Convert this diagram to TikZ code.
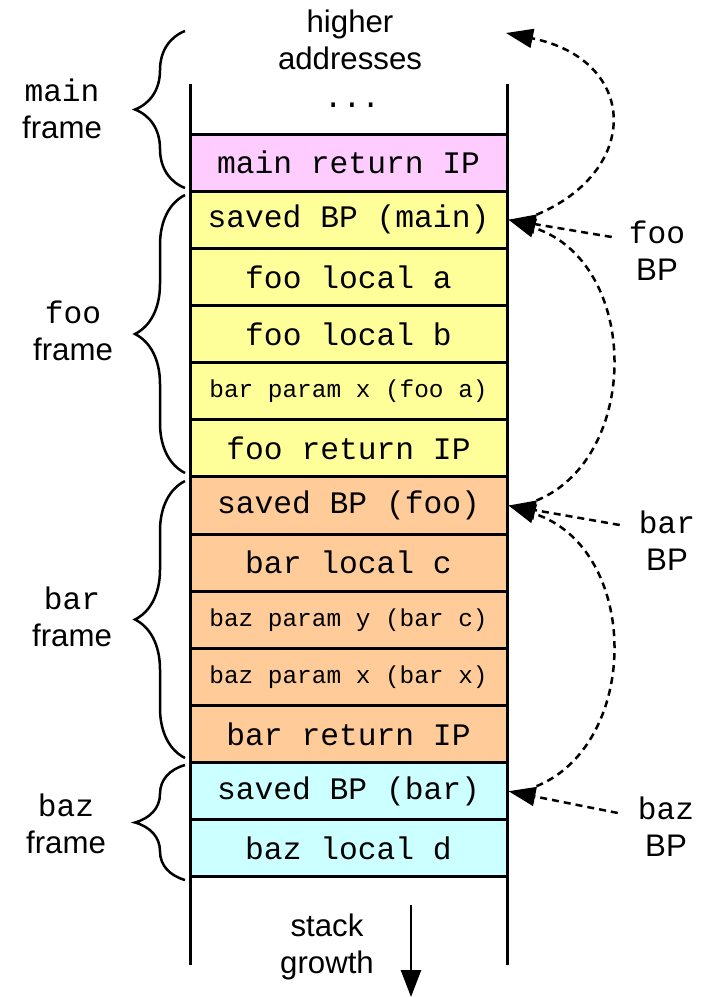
\documentclass[tikz,border=0pt]{standalone}
\usepackage{fontspec}
\setmainfont{Liberation Sans}
\setmonofont{Liberation Mono}
\usetikzlibrary{arrows.meta,decorations.pathreplacing}
\definecolor{mainpink}{HTML}{FFCCFF}
\definecolor{fooyellow}{HTML}{FFFF99}
\definecolor{barorange}{HTML}{FFCC99}
\definecolor{bazcyan}{HTML}{CCFFFF}
\tikzset{
  slotbox/.style={draw, line width=3pt, minimum width=317pt,
    minimum height=57.15pt, inner sep=0pt,
    font=\ttfamily\fontsize{31.3}{36}\selectfont},
  slotsmall/.style={slotbox, font=\ttfamily\fontsize{24.4}{28}\selectfont},
  sidetext/.style={align=center, inner sep=0pt,
    font=\fontsize{31.2}{37}\selectfont},
  stackwall/.style={line width=3pt},
  framebrace/.style={line width=2.5pt,
    decorate, decoration={brace, amplitude=50pt}},
  bplink/.style={-{Triangle[length=27pt,width=19pt]}, line width=2.5pt,
    dash pattern=on 7pt off 5pt},
  growarr/.style={-{Triangle[length=27pt,width=20pt]}, line width=2.5pt},
}

\begin{document}
\begin{tikzpicture}[x=1pt, y=-1pt]
  \useasboundingbox (0,0) rectangle (712,997);
  % Stack walls
  \draw[stackwall] (190,84) -- (190,965);
  \draw[stackwall] (507,84) -- (507,965);
  \node[sidetext] at (350,40) (hiaddrtxt) {higher\\addresses};
  \node[font=\ttfamily\fontsize{31.3}{36}\selectfont] at (352,105) (dots) {...};
  \coordinate (hiaddr) at (506,33);
  % main frame
  \node[slotbox, fill=mainpink]    at (348.5,162.6) (retmain) {main return IP};
  % foo frame
  \node[slotbox, fill=fooyellow]   at (348.5,219.7) (sbmain)  {saved BP (main)};
  \node[slotbox, fill=fooyellow]   at (348.5,276.9) (fooa)    {foo local a};
  \node[slotbox, fill=fooyellow]   at (348.5,334.0) (foob)    {foo local b};
  \node[slotsmall, fill=fooyellow] at (348.5,391.2) (barx)    {bar param x (foo a)};
  \node[slotbox, fill=fooyellow]   at (348.5,448.3) (retfoo)  {foo return IP};
  % bar frame
  \node[slotbox, fill=barorange]   at (348.5,505.5) (sbfoo)   {saved BP (foo)};
  \node[slotbox, fill=barorange]   at (348.5,562.6) (barc)    {bar local c};
  \node[slotsmall, fill=barorange] at (348.5,619.8) (bazy)    {baz param y (bar c)};
  \node[slotsmall, fill=barorange] at (348.5,676.9) (bazx)    {baz param x (bar x)};
  \node[slotbox, fill=barorange]   at (348.5,734.1) (retbar)  {bar return IP};
  % baz frame
  \node[slotbox, fill=bazcyan]     at (348.5,791.2) (sbbar)   {saved BP (bar)};
  \node[slotbox, fill=bazcyan]     at (348.5,848.4) (bazd)    {baz local d};
  % Frame braces and labels
  \draw[framebrace] (185,188) -- (185,31);
  \draw[framebrace] (185,473) -- (185,195);
  \draw[framebrace] (185,758) -- (185,481);
  \draw[framebrace] (185,880) -- (185,765);
  \node[sidetext] at (62,109)  (mainlbl) {{\ttfamily main}\\frame};
  \node[sidetext] at (73,331)  (foolbl)  {{\ttfamily foo}\\frame};
  \node[sidetext] at (72,617)  (barlbl)  {{\ttfamily bar}\\frame};
  \node[sidetext] at (66,824)  (bazlbl)  {{\ttfamily baz}\\frame};
  % Base pointers
  \node[sidetext] at (657,251) (foobp) {{\ttfamily foo}\\BP};
  \node[sidetext] at (667,541) (barbp) {{\ttfamily bar}\\BP};
  \node[sidetext] at (666,827) (bazbp) {{\ttfamily baz}\\BP};
  \draw[bplink] ([shift={(-17,-14)}]foobp.west) -- (sbmain.east);
  \draw[bplink] ([shift={(-19,-16)}]barbp.west) -- (sbfoo.east);
  \draw[bplink] ([shift={(-20,-14)}]bazbp.west) -- (sbbar.east);
  % Saved BP chain
  \draw[bplink] ([shift={(28,-5)}]sbmain.east)
    .. controls +(105,-44) and +(133,27) .. (hiaddr);
  \draw[bplink] ([shift={(28,-5)}]sbfoo.east)
    .. controls +(105,-43) and +(132,42) .. (sbmain.east);
  \draw[bplink] ([shift={(28,-5)}]sbbar.east)
    .. controls +(105,-43) and +(132,42) .. (sbfoo.east);
  % Growth direction
  \node[sidetext] at (327,947) (growtxt) {stack\\growth};
  \coordinate (growtop) at (411,905);
  \coordinate (growbot) at (411,997);
  \draw[growarr] (growtop) -- (growbot);
\end{tikzpicture}
\end{document}
